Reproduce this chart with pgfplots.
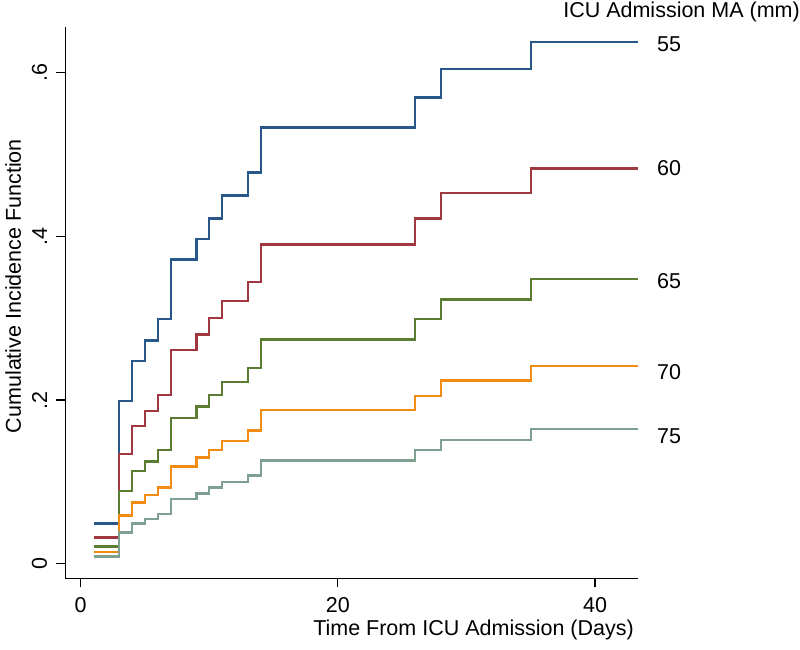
\documentclass[border=0pt]{standalone}
\usepackage{fontspec}
\setmainfont{Liberation Sans}
\usepackage{pgfplots}
\pgfplotsset{compat=1.18}
\definecolor{cnavy}{HTML}{285789}
\definecolor{cmaroon}{HTML}{A03741}
\definecolor{cgreen}{HTML}{5A7D32}
\definecolor{corange}{HTML}{F08C14}
\definecolor{cteal}{HTML}{7DA091}
\begin{document}
\begin{tikzpicture}[x=1pt,y=1pt]
\path[use as bounding box] (0,0) rectangle (800,650);
\begin{axis}[
    at={(65.3pt,71.7pt)}, anchor=south west,
    scale only axis, width=573pt, height=551.3pt,
    xmin=-1.1975, xmax=43.36, ymin=-0.01785, ymax=0.6561,
    axis x line=bottom, axis y line=left,
    axis line style={-, line width=1.2pt, black},
    tick align=outside, major tick length=9pt,
    tick style={line width=1.2pt, black},
    xtick={0,20,40}, xticklabels={0,20,40},
    ytick={0,0.2,0.4,0.6}, yticklabels={0,.2,.4,.6},
    font=\fontsize{21.5}{25}\selectfont,
    /pgf/number format/assume math mode=true,
    xticklabel style={anchor=north, inner sep=0pt},
    xticklabel shift=10pt,
    yticklabel style={rotate=90, anchor=south, inner sep=0pt},
    yticklabel shift=9pt,
    xlabel={Time From ICU Admission (Days)},
    xlabel style={at={(axis description cs:0.9925,-0.094)}, anchor=east, inner sep=0pt},
    ylabel={Cumulative Incidence Function},
    ylabel style={at={(axis description cs:-0.0908,0.53)}, anchor=center, inner sep=0pt},
    clip=false,
    every axis plot/.append style={const plot, line width=2.4pt, line join=miter},
]
% 55
\addplot[cnavy] coordinates {(1,0.049) (3,0.199) (4,0.248) (5,0.273) (6,0.299) (7,0.372)
  (9,0.397) (10,0.422) (11,0.450) (13,0.478) (14,0.533) (26,0.570) (28,0.605) (35,0.638) (43.36,0.638)};
% 60
\addplot[cmaroon] coordinates {(1,0.032) (3,0.134) (4,0.168) (5,0.187) (6,0.206) (7,0.261)
  (9,0.280) (10,0.300) (11,0.321) (13,0.344) (14,0.390) (26,0.422) (28,0.453) (35,0.483) (43.36,0.483)};
% 65
\addplot[cgreen] coordinates {(1,0.021) (3,0.089) (4,0.113) (5,0.125) (6,0.139) (7,0.178)
  (9,0.192) (10,0.206) (11,0.222) (13,0.239) (14,0.274) (26,0.299) (28,0.323) (35,0.348) (43.36,0.348)};
% 70
\addplot[corange] coordinates {(1,0.014) (3,0.059) (4,0.075) (5,0.084) (6,0.093) (7,0.119)
  (9,0.130) (10,0.139) (11,0.150) (13,0.163) (14,0.188) (26,0.205) (28,0.224) (35,0.242) (43.36,0.242)};
% 75
\addplot[cteal] coordinates {(1,0.009) (3,0.038) (4,0.049) (5,0.055) (6,0.061) (7,0.079)
  (9,0.086) (10,0.093) (11,0.100) (13,0.108) (14,0.126) (26,0.139) (28,0.151) (35,0.165) (43.36,0.165)};
\node[anchor=west, inner sep=0pt, xshift=18.7pt] at (axis cs:43.36,0.6353) {55};
\node[anchor=west, inner sep=0pt, xshift=18.7pt] at (axis cs:43.36,0.4837) {60};
\node[anchor=west, inner sep=0pt, xshift=18.7pt] at (axis cs:43.36,0.3456) {65};
\node[anchor=west, inner sep=0pt, xshift=18.7pt] at (axis cs:43.36,0.2344) {70};
\node[anchor=west, inner sep=0pt, xshift=18.7pt] at (axis cs:43.36,0.1561) {75};
\end{axis}
\node[anchor=east, inner sep=0pt, font=\fontsize{21.5}{25}\selectfont] at (800,638) {ICU Admission MA (mm)};
\end{tikzpicture}
\end{document}
